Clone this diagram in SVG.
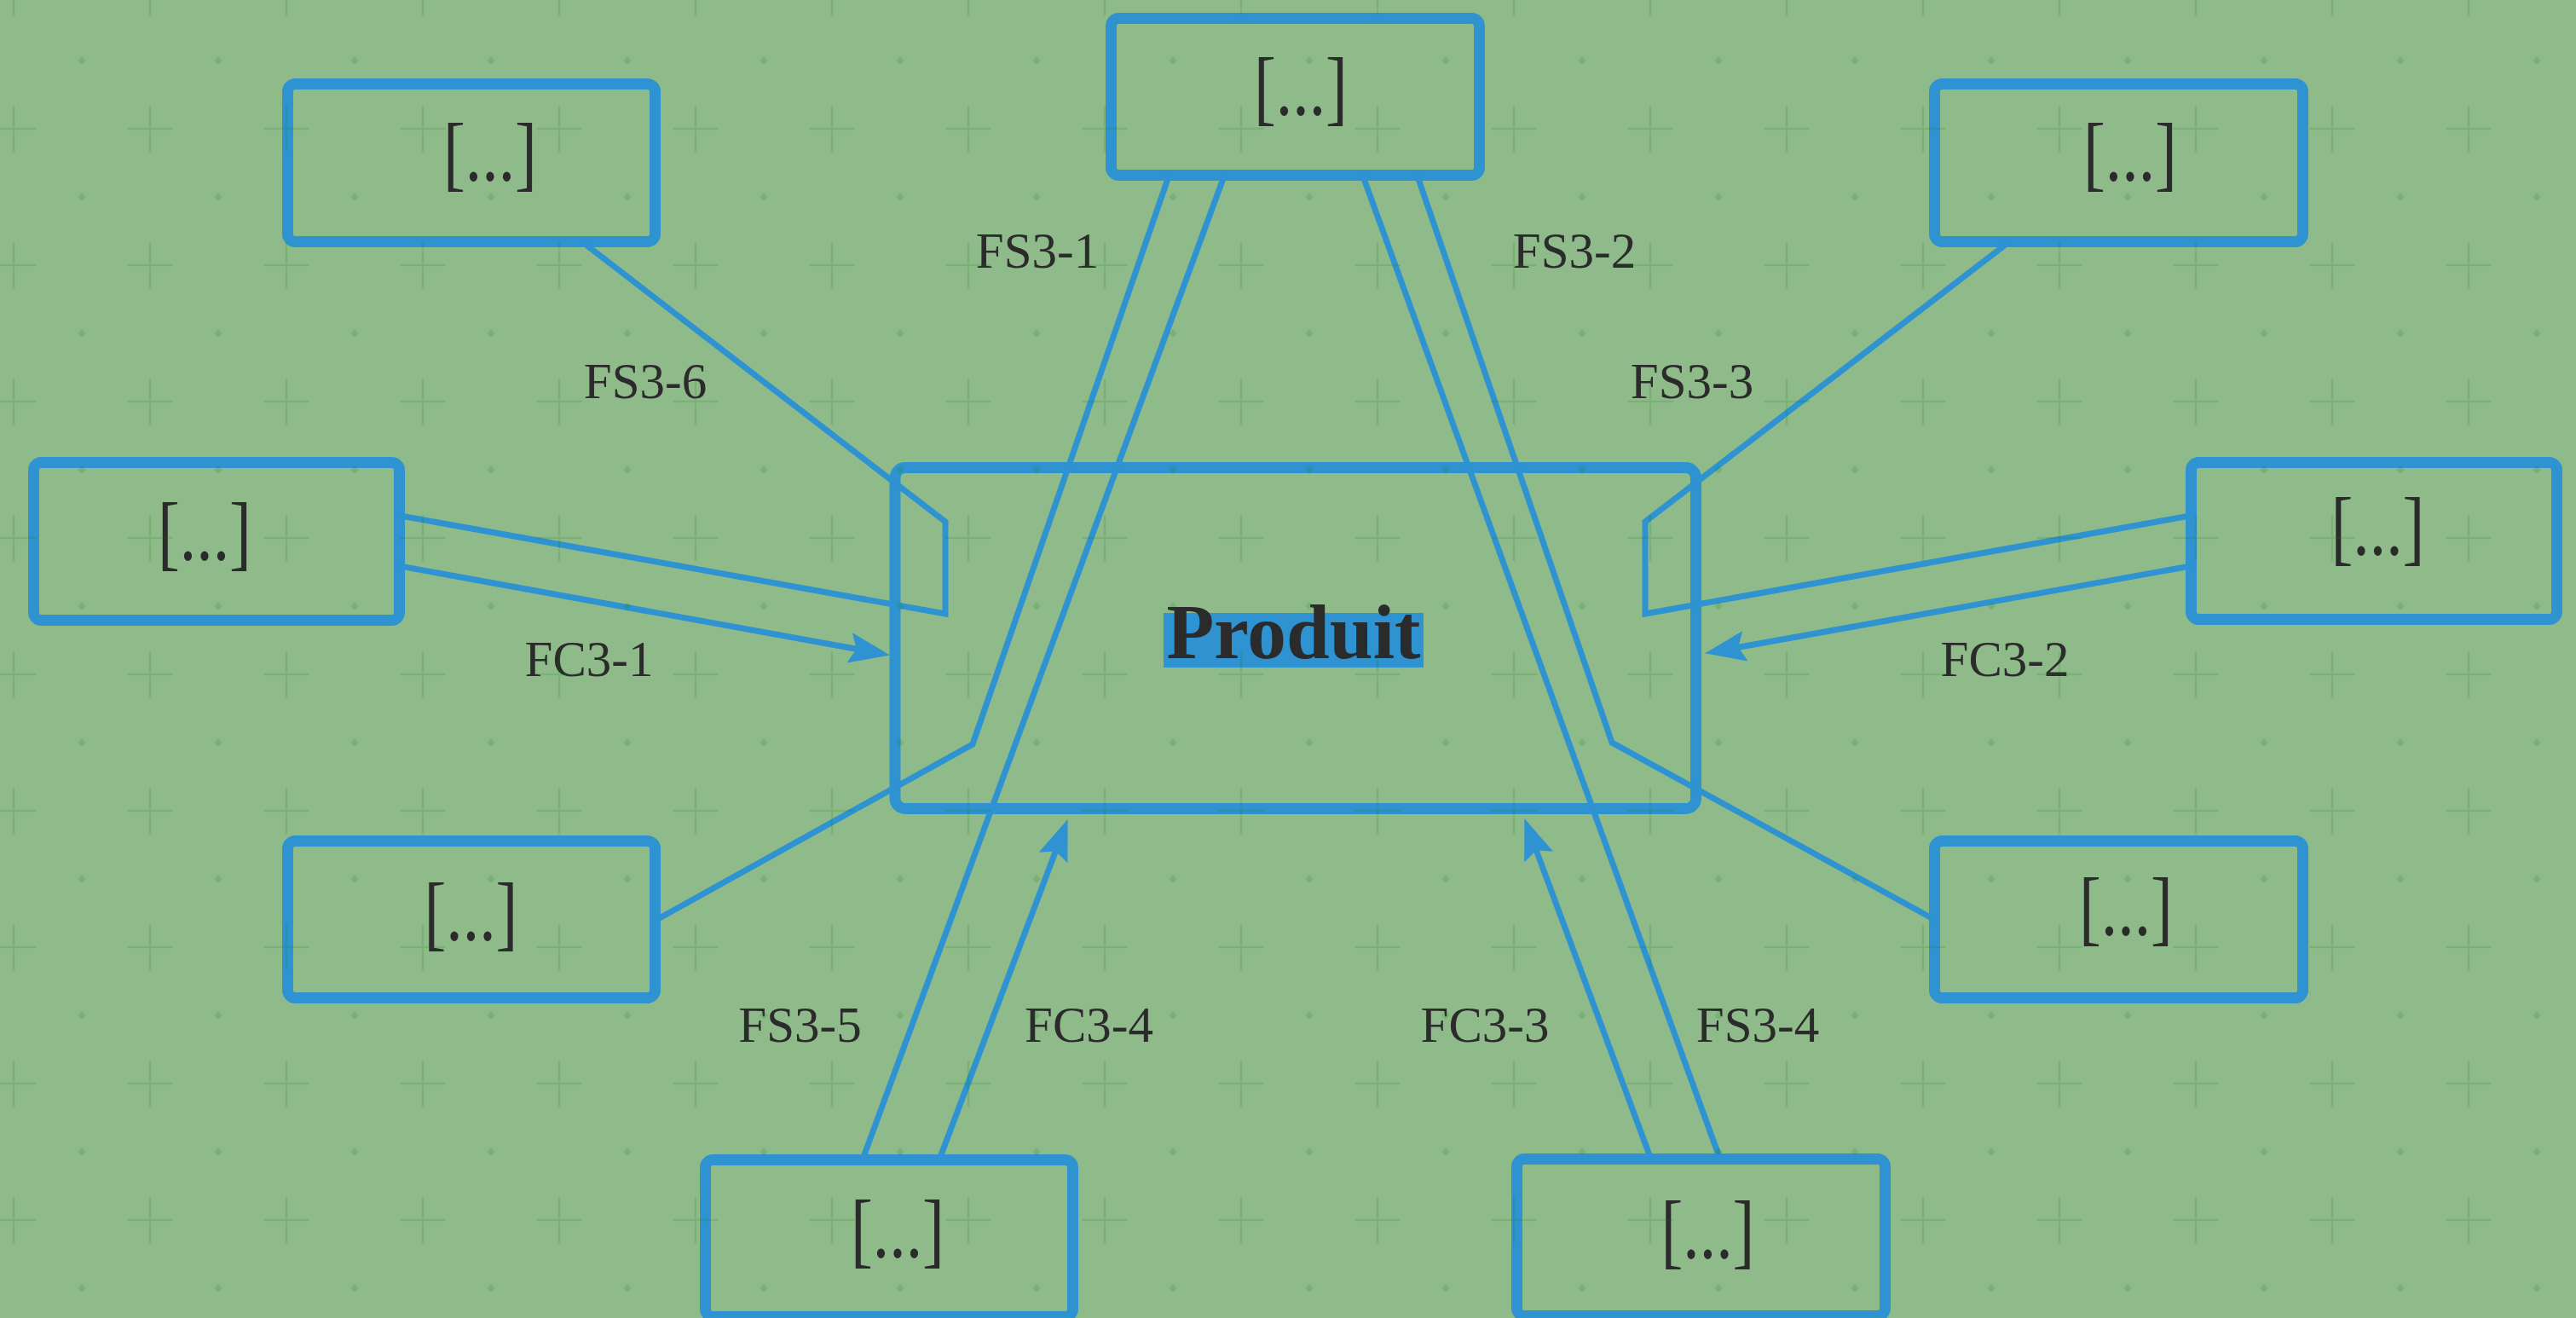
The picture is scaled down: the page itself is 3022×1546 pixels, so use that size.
<svg xmlns="http://www.w3.org/2000/svg" width="3022" height="1546" viewBox="0 0 3022 1546">
<style>
.box{fill:none;stroke:#2e93d0;stroke-width:13;}
.ln{fill:none;stroke:#2e93d0;stroke-width:7;stroke-linejoin:miter;}
.nt{font-family:"Liberation Serif","Times New Roman",serif;font-size:98px;fill:#2b2b2b;text-anchor:middle;}
.lb{font-family:"Liberation Serif","Times New Roman",serif;font-size:59px;fill:#2b2b2b;text-anchor:middle;}
.main{font-family:"Liberation Serif","Times New Roman",serif;font-size:92px;font-weight:bold;fill:#2b2b2b;text-anchor:middle;}
</style>
<defs>
<marker id="arr" markerUnits="userSpaceOnUse" orient="auto" overflow="visible" markerWidth="1" markerHeight="1" refX="0" refY="0">
<path d="M40,0 L-8,-18 L0,0 L-8,18 Z" fill="#2e93d0"/>
</marker>
<pattern id="grid" patternUnits="userSpaceOnUse" x="56" y="31" width="160" height="160">
<path d="M93,120 H147 M120,93 V147" stroke="#008000" stroke-opacity="0.15" stroke-width="2.5" fill="none"/>
<path d="M40,35 L45,40 L40,45 L35,40 Z" fill="#008000" fill-opacity="0.15"/>
</pattern>
</defs>
<rect x="0" y="0" width="3022" height="1546" fill="#8fbb8b"/>

<g id="nodes">
<g id="produit">
<rect class="box" x="1050" y="548.5" width="939.5" height="400" rx="12"/>
<rect x="1365" y="719" width="305" height="64" fill="#2e93d0"/>
<text class="main" x="1517.5" y="772" textLength="298" lengthAdjust="spacingAndGlyphs">Produit</text>
</g>
<g id="n-top-left">
<rect class="box" x="337.5" y="98.5" width="431" height="185" rx="9"/>
<text class="nt" x="575" y="212" textLength="110" lengthAdjust="spacingAndGlyphs">[...]</text>
</g>
<g id="n-top">
<rect class="box" x="1303.5" y="21.5" width="432" height="184" rx="9"/>
<text class="nt" x="1526" y="135" textLength="110" lengthAdjust="spacingAndGlyphs">[...]</text>
</g>
<g id="n-top-right">
<rect class="box" x="2269.5" y="98.5" width="432" height="185" rx="9"/>
<text class="nt" x="2499" y="212" textLength="110" lengthAdjust="spacingAndGlyphs">[...]</text>
</g>
<g id="n-left">
<rect class="box" x="39.5" y="542.5" width="429" height="185" rx="9"/>
<text class="nt" x="240" y="657" textLength="110" lengthAdjust="spacingAndGlyphs">[...]</text>
</g>
<g id="n-right">
<rect class="box" x="2570.5" y="542.5" width="429" height="184" rx="9"/>
<text class="nt" x="2789.5" y="651" textLength="110" lengthAdjust="spacingAndGlyphs">[...]</text>
</g>
<g id="n-bottom-left">
<rect class="box" x="337.5" y="986.5" width="431" height="184" rx="9"/>
<text class="nt" x="552.5" y="1103" textLength="110" lengthAdjust="spacingAndGlyphs">[...]</text>
</g>
<g id="n-bottom-right">
<rect class="box" x="2269.5" y="986.5" width="432" height="184" rx="9"/>
<text class="nt" x="2494" y="1097" textLength="110" lengthAdjust="spacingAndGlyphs">[...]</text>
</g>
<g id="n-bottom-center-left">
<rect class="box" x="827.5" y="1360.5" width="431" height="184" rx="9"/>
<text class="nt" x="1053" y="1475" textLength="110" lengthAdjust="spacingAndGlyphs">[...]</text>
</g>
<g id="n-bottom-center-right">
<rect class="box" x="1779.5" y="1359.5" width="432" height="184" rx="9"/>
<text class="nt" x="2003.5" y="1476" textLength="110" lengthAdjust="spacingAndGlyphs">[...]</text>
</g>
</g>

<g id="connectors">
<polyline class="ln" points="686,286 1109,612 1109,720 470,605"/>
<polyline class="ln" points="2354,286 1930,612 1930,720 2569,605"/>
<polyline class="ln" points="1372,204 1141,873 770,1079"/>
<polyline class="ln" points="1662,204 1891,871 2270,1079"/>
<line class="ln" x1="1437" y1="204" x2="1012" y2="1360"/>
<line class="ln" x1="1598" y1="204" x2="2018" y2="1360"/>
<line class="ln" x1="469" y1="664" x2="1004.6" y2="761.3" marker-end="url(#arr)"/>
<line class="ln" x1="2570" y1="664" x2="2039.4" y2="759.3" marker-end="url(#arr)"/>
<line class="ln" x1="1102" y1="1360" x2="1238.4" y2="998.5" marker-end="url(#arr)"/>
<line class="ln" x1="1937" y1="1360" x2="1802.3" y2="997.6" marker-end="url(#arr)"/>
<text class="lb" x="1217" y="314">FS3-1</text>
<text class="lb" x="1847" y="314">FS3-2</text>
<text class="lb" x="757" y="467">FS3-6</text>
<text class="lb" x="1985" y="467">FS3-3</text>
<text class="lb" x="691" y="793">FC3-1</text>
<text class="lb" x="2352" y="793">FC3-2</text>
<text class="lb" x="938.5" y="1222">FS3-5</text>
<text class="lb" x="1277.5" y="1222">FC3-4</text>
<text class="lb" x="1742" y="1222">FC3-3</text>
<text class="lb" x="2062" y="1222">FS3-4</text>
</g>

<rect x="0" y="0" width="3022" height="1546" fill="url(#grid)"/>
</svg>
